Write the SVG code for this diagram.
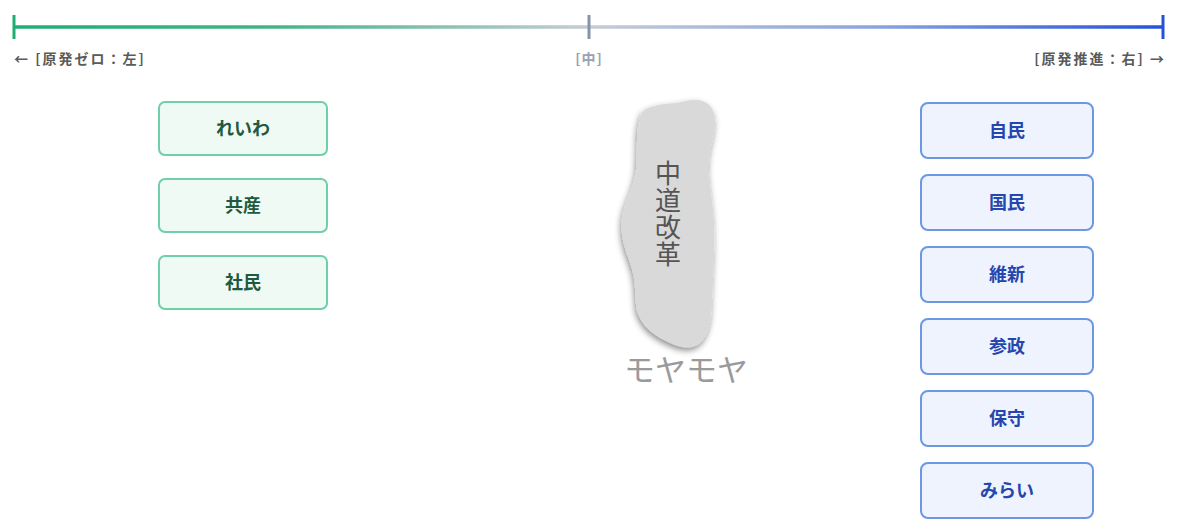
<svg xmlns="http://www.w3.org/2000/svg" width="1177" height="529" viewBox="0 0 1177 529">
<defs>
<linearGradient id="axisGrad" x1="14" y1="0" x2="1163" y2="0" gradientUnits="userSpaceOnUse">
<stop offset="0" stop-color="#1fae72"/>
<stop offset="0.22" stop-color="#3fb486"/>
<stop offset="0.5" stop-color="#c6ccd4"/>
<stop offset="0.75" stop-color="#8aa4e0"/>
<stop offset="1" stop-color="#2552d8"/>
</linearGradient>
<filter id="blobShadow" x="-30%" y="-15%" width="160%" height="130%">
<feDropShadow dx="-1" dy="3" stdDeviation="3" flood-color="#000" flood-opacity="0.45"/>
</filter>
</defs>
<style>
.lbl{font-family:"Noto Sans CJK JP","Noto Sans",sans-serif;font-size:14px;font-weight:700;fill:#5a5a5a;letter-spacing:2px}
.mid{font-family:"Noto Sans CJK JP","Noto Sans",sans-serif;font-size:14px;font-weight:700;fill:#98a2b2;letter-spacing:1px}
.lbox rect{fill:#effaf5;stroke:#6fcfa8;stroke-width:2}
.lbox text{font-family:"Noto Sans CJK JP","Noto Sans",sans-serif;font-size:18px;font-weight:700;fill:#1f5a3e;text-anchor:middle}
.rbox rect{fill:#eef3fd;stroke:#6b98e2;stroke-width:2}
.rbox text{font-family:"Noto Sans CJK JP","Noto Sans",sans-serif;font-size:18px;font-weight:700;fill:#2446ae;text-anchor:middle}
.blobtxt{font-family:"Noto Sans CJK JP","Noto Sans",sans-serif;font-size:26px;fill:#555;writing-mode:vertical-rl;letter-spacing:1px}
.moya{font-family:"Noto Sans CJK JP","Noto Sans",sans-serif;font-size:31px;fill:#9a9a9a;text-anchor:middle}
</style>
<rect width="1177" height="529" fill="#ffffff"/>

<g id="axis">
<line x1="14" y1="27" x2="1163" y2="27" stroke="url(#axisGrad)" stroke-width="3.5"/>
<line x1="14" y1="15" x2="14" y2="39" stroke="#1fae72" stroke-width="3"/>
<line x1="589" y1="15" x2="589" y2="39" stroke="#8794a8" stroke-width="3"/>
<line x1="1163" y1="15" x2="1163" y2="39" stroke="#2552d8" stroke-width="3"/>
<text class="lbl" x="14" y="64">← [原発ゼロ：左]</text>
<text class="mid" x="589" y="64" text-anchor="middle">[中]</text>
<text class="lbl" x="1166" y="64" text-anchor="end">[原発推進：右] →</text>
</g>

<g id="connectors"></g>

<g id="reiwa" class="lbox"><rect x="159" y="102" width="168" height="53" rx="6"/><text x="243" y="135">れいわ</text></g>
<g id="kyosan" class="lbox"><rect x="159" y="179" width="168" height="53" rx="6"/><text x="243" y="212">共産</text></g>
<g id="shamin" class="lbox"><rect x="159" y="256" width="168" height="53" rx="6"/><text x="243" y="289">社民</text></g>

<g id="jimin" class="rbox"><rect x="921" y="103" width="172" height="55" rx="7"/><text x="1007" y="137">自民</text></g>
<g id="kokumin" class="rbox"><rect x="921" y="175" width="172" height="55" rx="7"/><text x="1007" y="209">国民</text></g>
<g id="ishin" class="rbox"><rect x="921" y="247" width="172" height="55" rx="7"/><text x="1007" y="281">維新</text></g>
<g id="sansei" class="rbox"><rect x="921" y="319" width="172" height="55" rx="7"/><text x="1007" y="353">参政</text></g>
<g id="hoshu" class="rbox"><rect x="921" y="391" width="172" height="55" rx="7"/><text x="1007" y="425">保守</text></g>
<g id="mirai" class="rbox"><rect x="921" y="463" width="172" height="55" rx="7"/><text x="1007" y="497">みらい</text></g>

<g id="chudo">
<path filter="url(#blobShadow)" fill="#d9d9d9" d="M641,114 C646,106 660,104 676,103 C686,102 690,99 697,100 C707,101 714,107 715,118 C716,132 710,146 709,162 C708,178 713,200 714,225 C715,250 713,275 712,300 C712,320 709,336 699,344 C689,351 676,346 666,341 C654,335 642,327 637,311 C634,297 637,281 630,263 C625,249 620,236 622,218 C624,202 633,190 636,170 C638,150 635,130 641,114 Z"/>
<text class="blobtxt" x="668" y="160">中道改革</text>
</g>

<g id="moyamoya">
<text class="moya" x="686" y="381">モヤモヤ</text>
</g>
</svg>
